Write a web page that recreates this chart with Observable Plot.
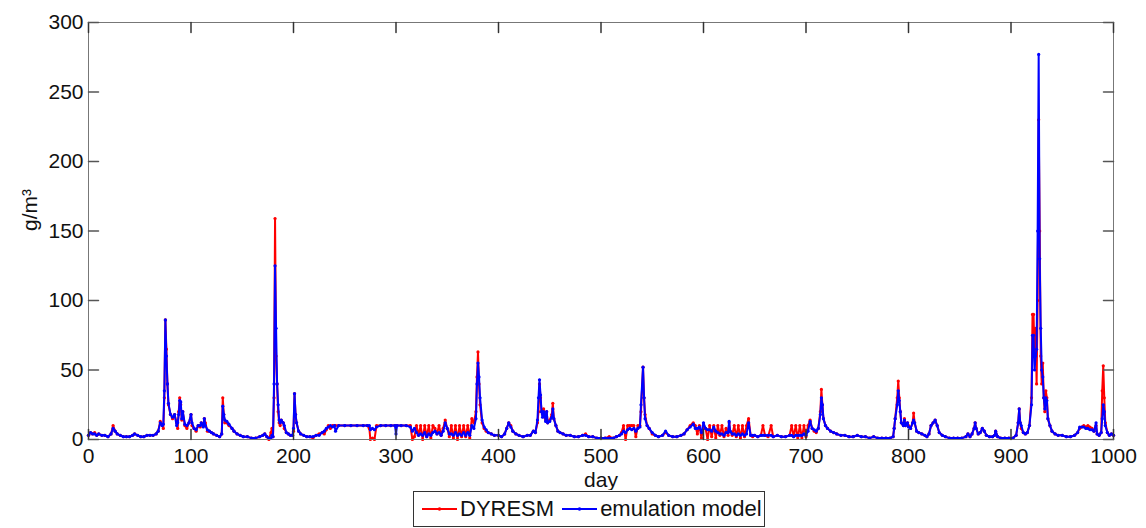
<!DOCTYPE html>
<html><head><meta charset="utf-8">
<script src="https://cdn.jsdelivr.net/npm/d3@7"></script>
<script src="https://cdn.jsdelivr.net/npm/@observablehq/plot@0.6"></script>
<style>
body{margin:0;background:#fff;font-family:"Liberation Sans",Arial,sans-serif;}
#wrap{position:relative;width:1146px;height:528px;overflow:hidden;}
#legend{position:absolute;left:413px;top:491px;width:352px;height:36px;border:1px solid #333;background:#fff;display:flex;align-items:center;font-size:22px;color:#111;box-sizing:border-box;}
#legend .sw{margin-left:8px;margin-right:3px;display:block;}
</style></head><body><div id="wrap"><div id="chart"></div><div id="legend"></div></div>
<script>
const seriesNames = ["DYRESM", "emulation model"];
const seriesColors = ["#ff0000", "#0000ff"];
const xTicks = [0,100,200,300,400,500,600,700,800,900,1000];
const yTicks = [0,50,100,150,200,250,300];

const days = [
 0,2,4,6,8,10,13,16,19,22,
 24,26,28,31,34,37,40,43,45,48,
 51,54,57,60,63,66,68,70,72,73,
 74,75,76,77,78,80,82,84,86,87,
 88,89,90,91,92,94,96,98,100,101,
 103,105,107,109,110,112,113,114,116,118,
 120,122,125,128,130,131,132,133,135,137,
 140,142,145,148,151,155,159,163,167,170,
 172,174,176,178,179,180,181,182,183,184,
 185,186,187,188,190,191,193,195,197,199,
 200,201,202,203,205,207,210,213,216,219,
 222,225,228,230,232,234,236,238,240,241,
 244,250,256,262,268,272,274,275,277,279,
 281,285,290,295,299,300,301,305,310,314,
 316,318,320,322,324,326,328,330,332,334,
 336,338,340,342,344,346,348,350,352,354,
 356,358,360,362,364,366,368,370,372,374,
 376,378,379,380,381,382,384,386,388,390,
 393,396,400,403,406,408,410,412,414,417,
 420,424,428,431,434,436,438,439,440,441,
 442,443,444,445,446,447,448,450,452,453,
 454,456,458,460,463,466,470,474,478,482,
 485,488,492,496,500,504,508,512,515,518,
 520,522,524,526,528,530,532,534,536,538,
 539,541,542,543,545,547,550,553,556,560,
 563,566,570,574,578,581,584,587,590,592,
 594,596,598,600,602,604,606,608,610,612,
 614,616,618,620,622,624,625,626,628,630,
 632,634,636,638,640,642,644,646,648,650,
 653,656,658,660,663,666,668,672,676,680,
 684,686,688,690,692,694,696,698,700,702,
 704,706,708,710,712,714,715,716,717,719,
 721,724,727,730,734,738,742,746,750,754,
 758,762,766,770,774,778,782,785,786,787,
 789,790,791,792,793,795,796,797,799,800,
 802,804,805,806,808,810,813,816,818,820,
 822,824,826,828,830,833,836,840,844,848,
 852,856,858,860,862,864,865,866,868,870,
 872,874,876,879,882,884,885,887,890,894,
 898,902,905,907,908,909,910,912,914,916,
 918,920,921,922,923,924,925,926,927,928,
 929,930,931,932,933,934,935,936,938,940,
 943,946,950,954,958,962,965,967,969,971,
 973,975,977,979,981,983,984,986,988,989,
 990,991,992,994,996,998,1000
];
const dyresm = [
 3,5,4,5,3,4,3,3,2,4,
 10,6,4,3,2,2,2,3,4,3,
 2,2,3,3,3,4,6,13,10,8,
 30,86,65,40,25,18,15,18,12,8,
 20,30,25,14,20,10,8,12,18,10,
 8,6,10,9,12,10,15,12,6,6,
 5,4,3,2,4,30,18,12,12,10,
 8,6,4,3,2,2,1,1,2,3,
 4,2,0,5,8,2,30,159,60,40,
 20,12,10,14,12,8,5,4,3,3,
 6,33,18,12,6,4,3,2,2,1,
 3,4,5,4,7,10,8,10,10,10,
 10,10,10,10,10,10,8,0,1,0,
 10,10,10,10,10,10,10,10,10,10,
 0,2,10,3,10,0,10,2,10,1,
 10,8,4,10,3,8,14,8,2,10,
 1,10,0,10,2,10,2,10,1,15,
 12,20,45,63,40,25,12,8,6,5,
 4,3,3,2,4,8,12,10,6,4,
 3,2,3,3,6,5,12,20,40,30,
 20,18,22,16,14,20,12,14,18,26,
 15,10,6,5,4,3,3,2,2,3,
 4,2,2,1,1,1,2,1,2,3,
 5,10,0,10,10,10,10,2,10,10,
 20,52,30,18,10,8,4,3,2,3,
 5,3,2,2,3,4,7,10,12,10,
 4,10,1,10,8,0,10,2,10,1,
 10,3,10,2,8,3,12,6,3,10,
 2,10,1,10,2,10,15,3,2,3,
 2,3,10,3,2,10,2,3,2,2,
 3,10,2,10,1,10,1,10,2,10,
 14,8,6,5,8,20,36,25,15,10,
 8,6,5,4,3,3,2,2,3,2,
 2,1,2,1,1,1,1,2,8,15,
 30,42,30,20,12,10,15,10,12,10,
 8,12,19,12,6,5,4,3,2,4,
 10,12,14,10,5,3,2,1,1,1,
 1,2,4,2,4,8,12,8,4,5,
 8,6,3,2,2,3,6,2,1,1,
 1,1,3,12,22,12,8,5,4,5,
 10,30,90,90,60,80,40,100,230,150,
 60,40,55,30,20,35,30,15,10,6,
 4,3,3,2,2,3,5,8,9,10,
 9,10,9,8,6,10,4,3,5,35,
 53,30,12,5,3,4,3
];
const emulation = [
 3,5,4,4,3,4,3,3,2,4,
 8,6,4,3,2,2,2,3,4,3,
 2,2,3,3,3,4,6,12,10,11,
 35,86,60,40,26,18,16,18,10,12,
 18,28,27,15,20,11,10,12,18,12,
 8,7,10,10,12,9,15,10,7,6,
 5,4,3,2,4,24,18,14,13,11,
 8,6,4,3,2,2,1,1,2,3,
 4,2,1,1,3,2,40,125,80,40,
 25,14,12,14,12,10,5,4,3,3,
 8,33,18,12,6,4,3,2,2,2,
 3,3,5,6,8,9,10,9,10,6,
 10,10,10,10,10,10,10,7,8,7,
 9,10,10,10,10,4,10,10,10,9,
 6,8,5,3,4,3,5,2,4,3,
 5,6,4,5,3,6,12,8,4,4,
 3,5,3,4,3,5,3,5,3,10,
 8,15,40,55,45,30,14,9,7,5,
 4,3,3,2,4,8,12,9,6,4,
 3,2,3,3,6,5,14,30,43,32,
 20,16,20,18,13,20,12,13,16,22,
 15,10,6,5,4,3,3,2,2,3,
 3,2,2,1,1,1,1,1,2,3,
 4,6,5,7,8,7,8,6,8,9,
 25,52,30,15,10,8,5,3,2,3,
 6,3,2,2,3,4,7,9,11,8,
 8,9,5,12,8,7,7,6,9,6,
 5,4,4,3,5,5,13,6,4,4,
 3,4,3,4,3,4,12,3,3,3,
 2,3,3,3,3,3,2,3,2,2,
 3,3,2,3,3,3,3,4,3,6,
 13,8,7,6,8,18,30,25,15,10,
 8,6,5,4,3,3,2,2,3,2,
 2,1,2,1,1,1,1,2,8,15,
 25,35,28,20,12,10,14,10,12,9,
 8,12,14,12,6,5,4,3,2,4,
 10,12,14,10,5,3,2,1,1,1,
 1,2,4,2,4,8,12,8,4,5,
 8,6,3,2,2,3,6,2,1,1,
 1,1,3,12,22,12,10,5,4,5,
 10,25,75,75,50,60,65,150,277,130,
 80,50,45,30,22,30,28,15,10,6,
 4,3,3,2,2,3,5,9,9,9,
 8,8,7,7,6,12,4,3,5,15,
 25,20,10,5,3,4,3
];

const rows = days.map((d, i) => ({day: d, a: dyresm[i], b: emulation[i]}));
const font = '"Liberation Sans", Arial, sans-serif';
const tickShape = {draw(ctx, l) { ctx.moveTo(0, 0); ctx.lineTo(0, -l); }};
const fmt = d => String(d);

const chart = Plot.plot({
  width: 1146, height: 490,
  marginLeft: 88, marginRight: 33, marginTop: 22, marginBottom: 51,
  style: {fontFamily: font, fontSize: "21px", color: "#111", background: "#fff"},
  x: {domain: [0, 1000]},
  y: {domain: [0, 300]},
  marks: [
    Plot.line(rows, {x: "day", y: "a", stroke: seriesColors[0], strokeWidth: 2}),
    Plot.dot(rows, {x: "day", y: "a", fill: seriesColors[0], r: 1.6}),
    Plot.line(rows, {x: "day", y: "b", stroke: seriesColors[1], strokeWidth: 2}),
    Plot.dot(rows, {x: "day", y: "b", fill: seriesColors[1], r: 1.6}),
    Plot.frame({stroke: "#777"}),
    Plot.vector(xTicks, {x: d => d, frameAnchor: "bottom", length: 10, rotate: 0, anchor: "start", shape: tickShape, stroke: "#333"}),
    Plot.vector(xTicks, {x: d => d, frameAnchor: "top", length: 10, rotate: 180, anchor: "start", shape: tickShape, stroke: "#333"}),
    Plot.vector(yTicks, {y: d => d, frameAnchor: "left", length: 10, rotate: 90, anchor: "start", shape: tickShape, stroke: "#555"}),
    Plot.vector(yTicks, {y: d => d, frameAnchor: "right", length: 10, rotate: -90, anchor: "start", shape: tickShape, stroke: "#555"}),
    Plot.axisX(xTicks, {anchor: "bottom", tickSize: 0, tickPadding: 9, tickFormat: fmt, label: null, fontSize: 21}),
    Plot.axisY(yTicks, {anchor: "left", tickSize: 0, tickPadding: 5, tickFormat: fmt, label: null, fontSize: 21}),
    Plot.text(["day"], {text: d => d, frameAnchor: "bottom", dy: 33, lineAnchor: "top", fontSize: 21, fill: "#111"}),
    Plot.text(["g/m³"], {text: d => d, frameAnchor: "left", dx: -58, rotate: -90, fontSize: 21, fill: "#111"})
  ]
});
document.getElementById("chart").appendChild(chart);

const legend = document.getElementById("legend");
seriesNames.forEach((name, i) => {
  const svg = `<svg class="sw" width="35" height="10"><line x1="0" y1="5" x2="35" y2="5" stroke="${seriesColors[i]}" stroke-width="2"/><circle cx="17.5" cy="5" r="1.8" fill="${seriesColors[i]}"/></svg>`;
  legend.insertAdjacentHTML("beforeend", svg + `<span>${name}</span>`);
});
</script></body></html>
